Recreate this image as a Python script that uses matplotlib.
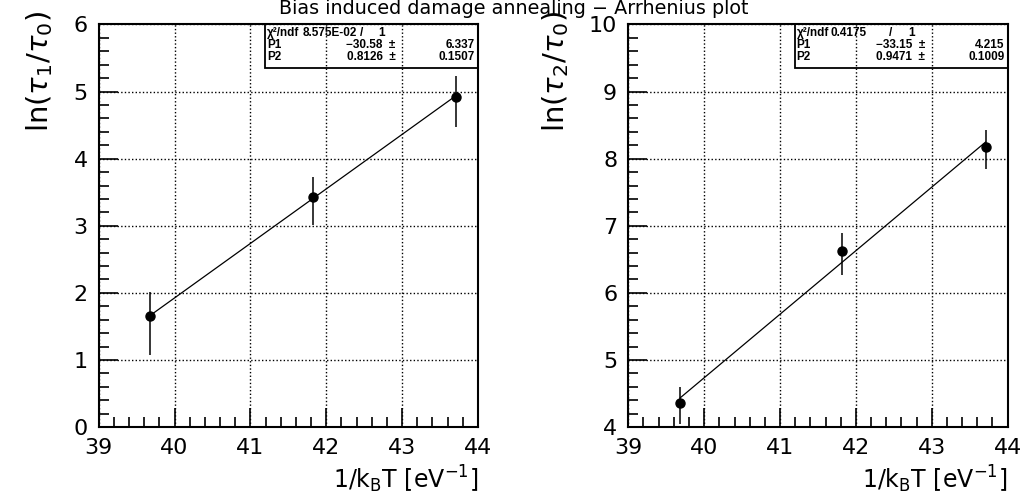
import numpy as np
import matplotlib
matplotlib.use('Agg')
import matplotlib.pyplot as plt
from matplotlib.ticker import MultipleLocator

plt.rcParams['font.family'] = ['DejaVu Sans']
plt.rcParams['mathtext.fontset'] = 'dejavusans'

# data
inv_kT = [39.68, 41.82, 43.71]

ln_tau1 = [1.65, 3.43, 4.92]
ln_tau1_lo = [1.07, 3.01, 4.47]
ln_tau1_hi = [2.01, 3.73, 5.23]

ln_tau2 = [4.36, 6.63, 8.18]
ln_tau2_lo = [4.04, 6.27, 7.84]
ln_tau2_hi = [4.60, 6.89, 8.42]

# fit results (P1 + P2*x)
fit1 = (-30.58, 0.8126)
fit2 = (-33.15, 0.9471)
stats1 = ['8.575E-02', '1', '-30.58', '6.337', '0.8126', '0.1507']
stats2 = ['0.4175', '1', '-33.15', '4.215', '0.9471', '0.1009']

fig = plt.figure(figsize=(10.27, 5.01), dpi=100)
ax1 = fig.add_axes([0.0961, 0.1477, 0.3693, 0.8034])
ax2 = fig.add_axes([0.6118, 0.1477, 0.3693, 0.8034])

def draw_panel(ax, y, lo, hi, fit, ylim, ylabel, stats, val_end):
    y = np.array(y)
    yerr = [y - np.array(lo), np.array(hi) - y]
    ax.errorbar(inv_kT, y, yerr=yerr, fmt='o', color='black', ms=6.5,
                elinewidth=1.1, capsize=0, zorder=3)
    xs = np.array([inv_kT[0], inv_kT[-1]])
    ax.plot(xs, fit[0] + fit[1] * xs, color='black', lw=0.9, zorder=2)

    ax.set_xlim(39, 44)
    ax.set_ylim(*ylim)
    ax.xaxis.set_major_locator(MultipleLocator(1))
    ax.xaxis.set_minor_locator(MultipleLocator(0.2))
    ax.yaxis.set_major_locator(MultipleLocator(1))
    ax.yaxis.set_minor_locator(MultipleLocator(0.2))
    ax.tick_params(which='both', direction='in', top=False, right=False,
                   width=1.2, color='black')
    ax.tick_params(which='major', length=14, labelsize=16, pad=8)
    ax.tick_params(which='minor', length=7)
    for s in ax.spines.values():
        s.set_linewidth(1.5)
    ax.grid(True, which='major', linestyle=(0, (1, 1.6)), color='black', lw=1.0)

    ax.set_xlabel(r'1/k$_{\mathrm{B}}$T [eV$^{-1}$]', fontsize=17,
                  ha='right', x=1.0, labelpad=4)
    ax.set_ylabel(ylabel, fontsize=21, ha='right', y=1.035, labelpad=13)

    # stats box
    x0 = 0.439
    ax.add_patch(plt.Rectangle((x0, 0.892), 1 - x0, 0.108, transform=ax.transAxes,
                               fill=False, lw=1.3, color='black', zorder=4))
    ry = [0.978, 0.948, 0.919]
    kw = dict(transform=ax.transAxes, fontsize=8.5, va='center', weight='bold',
              family=['Liberation Sans', 'DejaVu Sans'])
    ax.text(0.444, ry[0], '\u03c7\u00b2/ndf', **kw)
    ax.text(val_end, ry[0], stats[0], ha='right', **kw)
    ax.text(0.692, ry[0], '/', ha='center', **kw)
    ax.text(0.755, ry[0], stats[1], ha='right', **kw)
    for i, name in enumerate(['P1', 'P2']):
        ax.text(0.444, ry[i + 1], name, **kw)
        ax.text(0.782, ry[i + 1],
                stats[2 + 2 * i].replace('-', '\u2212') + '  \u00b1',
                ha='right', **kw)
        ax.text(0.992, ry[i + 1], stats[3 + 2 * i], ha='right', **kw)

draw_panel(ax1, ln_tau1, ln_tau1_lo, ln_tau1_hi, fit1, (0, 6),
           r'ln($\tau_1/\tau_0$)', stats1, 0.681)
draw_panel(ax2, ln_tau2, ln_tau2_lo, ln_tau2_hi, fit2, (4, 10),
           r'ln($\tau_2/\tau_0$)', stats2, 0.629)

fig.text(0.5, 0.984, 'Bias induced damage annealing \u2212 Arrhenius plot',
         ha='center', va='center', fontsize=13.8)

fig.savefig('out.png', dpi=100)
